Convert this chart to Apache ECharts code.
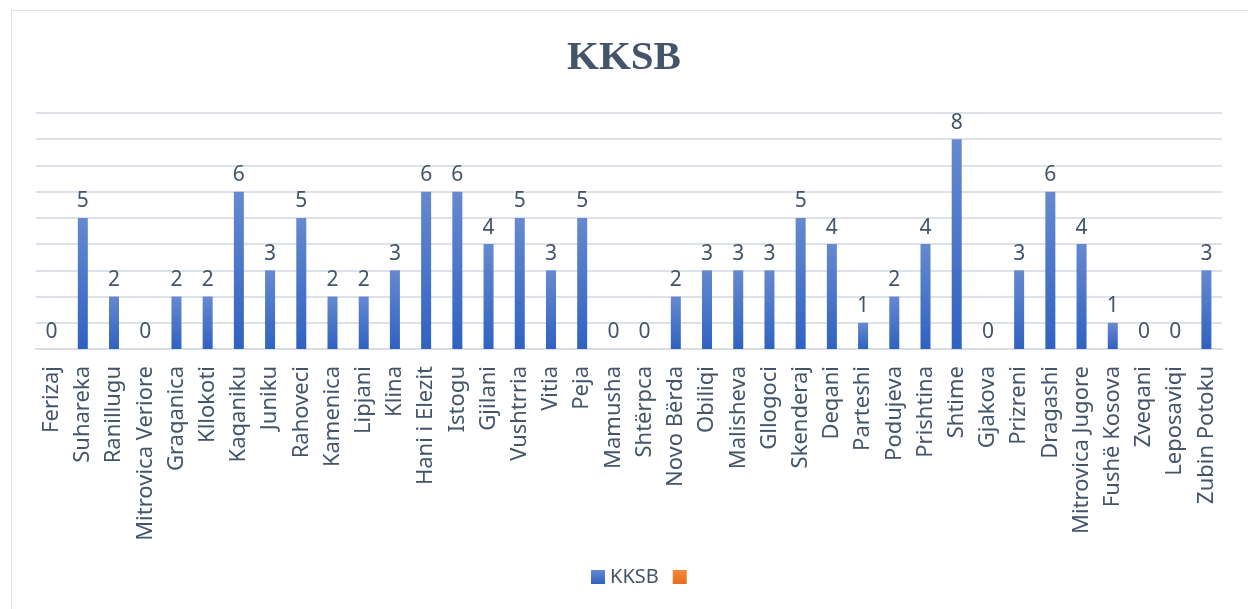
<!DOCTYPE html>
<html>
<head>
<meta charset="utf-8">
<script src="https://cdn.jsdelivr.net/npm/echarts@6/dist/echarts.min.js"></script>
<style>
  html, body { margin: 0; padding: 0; background: #fff; overflow: hidden; }
  #frame { position: absolute; left: 11px; top: 10px; width: 1260px; height: 620px; border: 1px solid #dde1ea; box-sizing: border-box; }
  #main { position: absolute; left: 0; top: 0; width: 1248px; height: 609px; }
</style>
</head>
<body>
<div id="frame"></div>
<div id="main"></div>
<script>
// 城市名称
const cities = ['Ferizaj', 'Suhareka', 'Ranillugu', 'Mitrovica Veriore', 'Graqanica', 'Kllokoti',
  'Kaqaniku', 'Juniku', 'Rahoveci', 'Kamenica', 'Lipjani', 'Klina', 'Hani i Elezit', 'Istogu',
  'Gjilani', 'Vushtrria', 'Vitia', 'Peja', 'Mamusha', 'Shtërpca', 'Novo Bërda', 'Obiliqi',
  'Malisheva', 'Gllogoci', 'Skenderaj', 'Deqani', 'Parteshi', 'Podujeva', 'Prishtina', 'Shtime',
  'Gjakova', 'Prizreni', 'Dragashi', 'Mitrovica Jugore', 'Fushë Kosova', 'Zveqani', 'Leposaviqi',
  'Zubin Potoku'];

// KKSB 数量
const kksb = [0, 5, 2, 0, 2, 2, 6, 3, 5, 2, 2, 3, 6, 6, 4, 5, 3, 5, 0, 0, 2, 3, 3, 3, 5, 4, 1, 2, 4, 8,
  0, 3, 6, 4, 1, 0, 0, 3];

// 第二个图例项（无数据）
const emptySeries = [];

const chart = echarts.init(document.getElementById('main'), null, { renderer: 'canvas' });

const font = 'Noto Sans';

chart.setOption({
  backgroundColor: 'transparent',
  animation: false,
  title: {
    text: 'KKSB',
    left: 'center',
    top: 33,
    textStyle: {
      fontFamily: 'Liberation Serif',
      fontWeight: 'bold',
      fontSize: 41,
      color: '#44546a'
    }
  },
  legend: {
    bottom: 17,
    left: 586,
    icon: 'rect',
    itemWidth: 14,
    itemHeight: 14,
    itemGap: 14,
    data: ['KKSB', ' '],
    textStyle: { fontFamily: font, fontSize: 20, color: '#44546a' }
  },
  grid: {
    left: 36,
    right: 26,
    top: 113,
    bottom: 260
  },
  xAxis: {
    type: 'category',
    data: cities,
    axisLine: { lineStyle: { color: '#d9dde5', width: 2 } },
    axisTick: { show: false },
    axisLabel: {
      rotate: 90,
      interval: 0,
      margin: 17,
      fontFamily: font,
      fontSize: 22,
      color: '#44546a'
    }
  },
  yAxis: {
    type: 'value',
    min: 0,
    max: 9,
    interval: 1,
    axisLabel: { show: false },
    axisLine: { show: false },
    splitLine: { lineStyle: { color: '#dde1ea', width: 2 } }
  },
  series: [
    {
      name: 'KKSB',
      type: 'bar',
      data: kksb,
      barWidth: 10,
      barGap: '-100%',
      itemStyle: {
        color: new echarts.graphic.LinearGradient(0, 0, 0, 1, [
          { offset: 0, color: '#6689d0' },
          { offset: 1, color: '#2f62c1' }
        ])
      },
      label: {
        show: true,
        position: 'top',
        distance: 6,
        fontFamily: font,
        fontSize: 21,
        color: '#44546a'
      }
    },
    {
      name: ' ',
      type: 'bar',
      data: emptySeries,
      barWidth: 10,
      itemStyle: {
        color: new echarts.graphic.LinearGradient(0, 0, 0, 1, [
          { offset: 0, color: '#f3893d' },
          { offset: 1, color: '#e86c1c' }
        ])
      }
    }
  ]
});
</script>
</body>
</html>
